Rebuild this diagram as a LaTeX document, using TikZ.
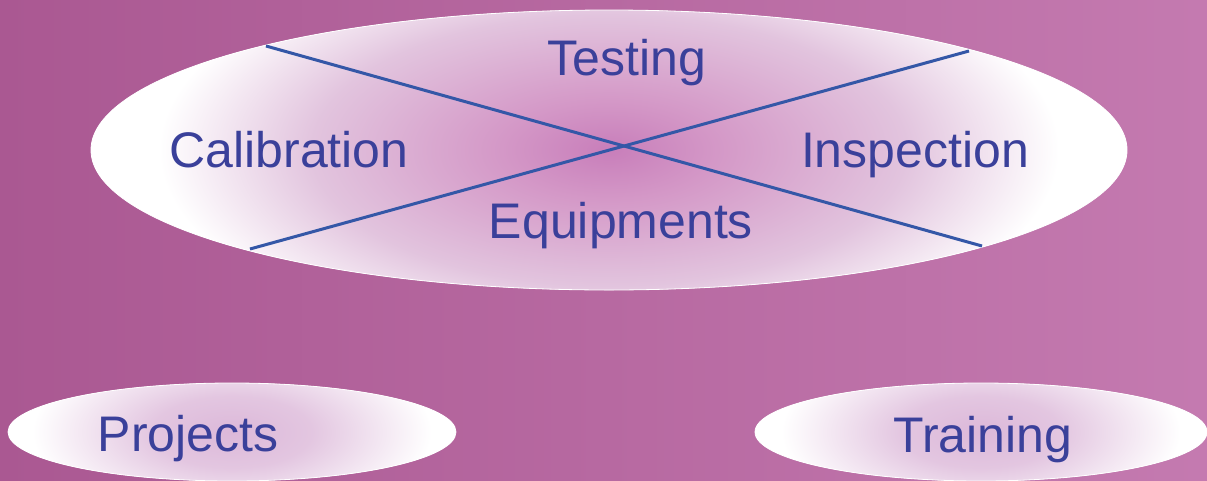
\documentclass[tikz,border=0pt]{standalone}
\usepackage{fontspec}
\setmainfont{Liberation Sans}
\definecolor{bgl}{RGB}{170,88,146}
\definecolor{bgr}{RGB}{196,122,176}
\definecolor{pinkc}{RGB}{200,126,186}
\definecolor{pinkm}{RGB}{212,152,199}
\definecolor{pinkl}{RGB}{226,196,222}
\definecolor{smallc}{RGB}{220,184,217}
\definecolor{linec}{RGB}{52,87,167}
\definecolor{textc}{RGB}{58,64,154}
\pgfdeclareradialshading{bigsh}{\pgfpointorigin}{color(0bp)=(pinkc); color(12bp)=(pinkm); color(33bp)=(pinkl); color(50bp)=(white)}
\pgfdeclareradialshading{smallsh}{\pgfpointorigin}{color(0bp)=(smallc); color(20bp)=(smallc!80!white); color(50bp)=(white)}
\newcommand{\placeshading}[5]{%
  \pgftransformshift{\pgfpoint{#2pt}{-#3pt}}%
  \pgftransformxscale{#4}%
  \pgftransformyscale{#5}%
  \pgflowlevelsynccm
  \pgfuseshading{#1}}
\tikzset{
  lbl/.style={text=textc, inner sep=0pt, anchor=base, font=\fontsize{50}{60}\selectfont},
  xline/.style={draw=linec, line width=3pt},
  rim/.style={draw=white, line width=0.8pt}
}
\begin{document}
\begin{tikzpicture}[x=1pt,y=-1pt]
\useasboundingbox (0,0) rectangle (1207,480);
\shade[left color=bgl, right color=bgr] (0,0) rectangle (1207,480);
% big ellipse
\fill[white] (609,150) ellipse [x radius=518, y radius=140];
\begin{scope}
  \clip (609,150) ellipse [x radius=518, y radius=140];
  \placeshading{bigsh}{609}{150}{8.97}{4.09}
\end{scope}
\draw[rim] (609,150) ellipse [x radius=518, y radius=140];
% small ellipses
\fill[white] (232,432) ellipse [x radius=224, y radius=49];
\begin{scope}
  \clip (232,432) ellipse [x radius=224, y radius=49];
  \placeshading{smallsh}{232}{432}{3.98}{1.79}
\end{scope}
\draw[rim] (232,432) ellipse [x radius=224, y radius=49];
\fill[white] (981,432) ellipse [x radius=226, y radius=49];
\begin{scope}
  \clip (981,432) ellipse [x radius=226, y radius=49];
  \placeshading{smallsh}{981}{432}{3.98}{1.79}
\end{scope}
\draw[rim] (981,432) ellipse [x radius=226, y radius=49];
% crossing lines
\coordinate (a1) at (266,46);
\coordinate (a2) at (982,246);
\coordinate (b1) at (250,249);
\coordinate (b2) at (969,51);
\draw[xline] (a1) -- (a2);
\draw[xline] (b1) -- (b2);
% labels
\node[lbl] (testing) at (627,75) {Testing};
\node[lbl] (calib) at (289,167) {Calibration};
\node[lbl] (insp) at (915,167) {Inspection};
\node[lbl] (equip) at (621,238) {Equipments};
\node[lbl] (proj) at (188,451) {Projects};
\node[lbl] (train) at (983,452) {Training};
\end{tikzpicture}
\end{document}
